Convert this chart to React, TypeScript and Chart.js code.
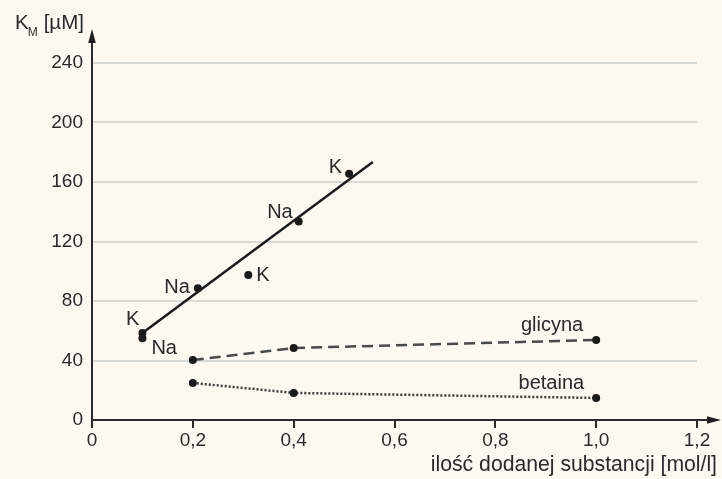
import React, { useEffect, useRef } from "react";
import { Chart, registerables } from "chart.js";

Chart.register(...registerables);

// ---- data ----
const saltX = [0.1, 0.1, 0.21, 0.31, 0.41, 0.51];
const saltY = [58.5, 55, 88.5, 97.5, 133.5, 165.5];
const saltLabels = ["K", "Na", "Na", "K", "Na", "K"];

const fitX = [0.1, 0.557];
const fitY = [58.5, 173.5];

const glycineX = [0.2, 0.4, 1.0];
const glycineY = [40.3, 48.4, 53.8];
const glycineName = "glicyna";

const betaineX = [0.2, 0.4, 1.0];
const betaineY = [24.9, 18.2, 14.8];
const betaineName = "betaina";

const xTicks = [0, 0.2, 0.4, 0.6, 0.8, 1.0, 1.2];
const xTickLabels = ["0", "0,2", "0,4", "0,6", "0,8", "1,0", "1,2"];
const yTicks = [0, 40, 80, 120, 160, 200, 240];

const xTitle = "ilość dodanej substancji [mol/l]";
const yTitleMain = "K";
const yTitleSub = "M";
const yTitleUnit = "[µM]";

// ---- styles (label placement relative to its point) ----
const saltLabelStyle: { dx: number; dy: number; align: CanvasTextAlign }[] = [
  { dx: -3, dy: -13, align: "right" },
  { dx: 9, dy: 10, align: "left" },
  { dx: -8, dy: -1, align: "right" },
  { dx: 8, dy: 1, align: "left" },
  { dx: -6, dy: -9, align: "right" },
  { dx: -7, dy: -6, align: "right" },
];

const FONT = '"Liberation Sans", Arial, sans-serif';
const TEXT = "#2a2a2a";
const BG = "#fdf9f1";
const LABEL_SIZE = 20;
const TITLE_SIZE = 20.5;
const XTITLE_SIZE = 21.2;
const TICK_SIZE = 19;

const pts = (xs: number[], ys: number[]) => xs.map((x, i) => ({ x, y: ys[i] }));

export default function App() {
  const ref = useRef<HTMLCanvasElement | null>(null);

  useEffect(() => {
    if (!ref.current) return;

    const decor = {
      id: "decor",
      beforeDraw(chart: any) {
        const c = chart.ctx;
        c.save();
        c.fillStyle = BG;
        c.fillRect(0, 0, chart.width, chart.height);
        c.restore();
      },
      afterDraw(chart: any) {
        const c = chart.ctx;
        const xs = chart.scales.x;
        const ys = chart.scales.y;
        const x0 = xs.getPixelForValue(0);
        const y0 = ys.getPixelForValue(0);
        const yTop = ys.getPixelForValue(240);
        const xRight = xs.getPixelForValue(1.2);
        c.save();
        c.strokeStyle = "#2a2a2a";
        c.fillStyle = "#1f1f1f";
        c.lineWidth = 2;
        // y axis
        c.beginPath();
        c.moveTo(x0, y0 + 7);
        c.lineTo(x0, yTop - 22);
        c.stroke();
        c.beginPath();
        c.moveTo(x0, yTop - 34);
        c.lineTo(x0 - 3.8, yTop - 20);
        c.lineTo(x0 + 3.8, yTop - 20);
        c.closePath();
        c.fill();
        // x axis
        c.beginPath();
        c.moveTo(x0, y0);
        c.lineTo(xRight + 12, y0);
        c.stroke();
        c.beginPath();
        c.moveTo(xRight + 24, y0);
        c.lineTo(xRight + 10, y0 - 3.8);
        c.lineTo(xRight + 10, y0 + 3.8);
        c.closePath();
        c.fill();

        // point labels
        c.fillStyle = TEXT;
        c.font = `${LABEL_SIZE}px ${FONT}`;
        c.textBaseline = "middle";
        saltX.forEach((x, i) => {
          const st = saltLabelStyle[i];
          c.textAlign = st.align;
          c.fillText(saltLabels[i], xs.getPixelForValue(x) + st.dx, ys.getPixelForValue(saltY[i]) + st.dy);
        });
        c.textAlign = "right";
        const gl = glycineX.length - 1;
        c.fillText(glycineName, xs.getPixelForValue(glycineX[gl]) - 13, ys.getPixelForValue(glycineY[gl]) - 14);
        const bl = betaineX.length - 1;
        c.fillText(betaineName, xs.getPixelForValue(betaineX[bl]) - 12, ys.getPixelForValue(betaineY[bl]) - 15);

        // axis titles
        c.font = `${XTITLE_SIZE}px ${FONT}`;
        c.textBaseline = "alphabetic";
        c.textAlign = "right";
        c.fillText(xTitle, 717, 471);
        c.font = `${TITLE_SIZE}px ${FONT}`;
        c.textAlign = "left";
        c.fillText(yTitleMain, 15, 29);
        const kw = c.measureText(yTitleMain).width;
        c.font = `12px ${FONT}`;
        c.fillText(yTitleSub, 15 + kw - 1, 36);
        const mw = c.measureText(yTitleSub).width;
        c.font = `${TITLE_SIZE}px ${FONT}`;
        c.fillText(yTitleUnit, 15 + kw + mw + 5, 29);
        c.restore();
      },
    };

    const chart = new Chart(ref.current, {
      type: "scatter",
      data: {
        datasets: [
          {
            data: pts(fitX, fitY),
            showLine: true,
            borderColor: "#1a1a1a",
            borderWidth: 2.5,
            pointRadius: 0,
          },
          {
            data: pts(saltX, saltY),
            showLine: false,
            pointRadius: 4,
            pointBackgroundColor: "#1a1a1a",
            pointBorderWidth: 0,
          },
          {
            data: pts(glycineX, glycineY),
            showLine: true,
            borderColor: "#4a4a4a",
            borderWidth: 2.5,
            borderDash: [11, 6],
            pointRadius: 4,
            pointBackgroundColor: "#1a1a1a",
            pointBorderWidth: 0,
          },
          {
            data: pts(betaineX, betaineY),
            showLine: true,
            borderColor: "#3a3a3a",
            borderWidth: 2.5,
            borderDash: [2, 2],
            pointRadius: 4,
            pointBackgroundColor: "#1a1a1a",
            pointBorderWidth: 0,
          },
        ],
      },
      options: {
        animation: false,
        responsive: false,
        events: [],
        layout: { padding: { left: 0, top: 63, right: 25, bottom: 0 } },
        plugins: { legend: { display: false }, tooltip: { enabled: false } },
        scales: {
          x: {
            type: "linear",
            min: 0,
            max: 1.2,
            afterFit: (s: any) => {
              s.height = 59;
            },
            afterBuildTicks: (s: any) => {
              s.ticks = xTicks.map((v) => ({ value: v }));
            },
            border: { display: false },
            grid: {
              drawOnChartArea: false,
              drawTicks: true,
              tickLength: 8,
              color: "#2a2a2a",
              lineWidth: 2,
            },
            ticks: {
              color: TEXT,
              font: { family: FONT, size: TICK_SIZE },
              padding: 1,
              maxRotation: 0,
              autoSkip: false,
              callback: (v: any) => {
                const i = xTicks.findIndex((t) => Math.abs(t - Number(v)) < 1e-9);
                return i >= 0 ? xTickLabels[i] : "";
              },
            },
          },
          y: {
            type: "linear",
            min: 0,
            max: 240,
            afterFit: (s: any) => {
              s.width = 92;
            },
            afterBuildTicks: (s: any) => {
              s.ticks = yTicks.map((v) => ({ value: v }));
            },
            border: { display: false },
            grid: {
              drawTicks: false,
              color: (ctx: any) => (ctx.tick && ctx.tick.value === 0 ? "rgba(0,0,0,0)" : "#d9d9d6"),
              lineWidth: 2,
            },
            ticks: {
              color: TEXT,
              font: { family: FONT, size: TICK_SIZE },
              padding: 9,
              autoSkip: false,
              callback: (v: any) => String(v),
            },
          },
        },
      },
      plugins: [decor],
    } as any);

    return () => chart.destroy();
  }, []);

  return (
    <div style={{ position: "fixed", left: 0, top: 0, width: 722, height: 479, background: BG }}>
      <canvas ref={ref} width={722} height={479} style={{ display: "block", width: 722, height: 479 }} />
    </div>
  );
}
